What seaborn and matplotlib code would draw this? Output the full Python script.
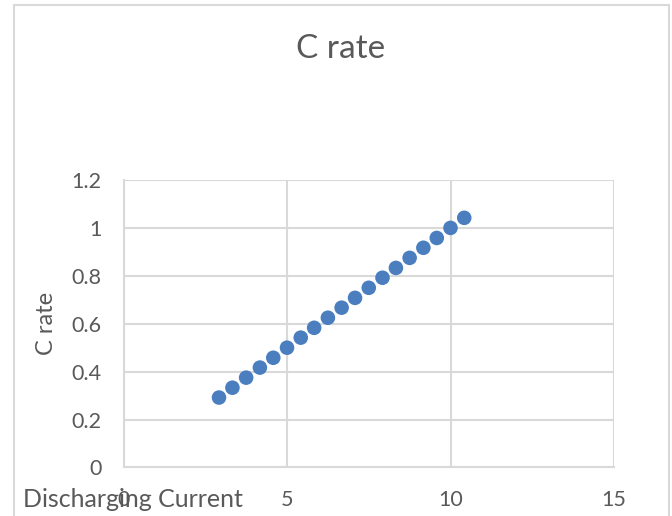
import matplotlib
matplotlib.use("Agg")
import matplotlib.pyplot as plt
import matplotlib.patches as mpatches
import seaborn as sns
import pandas as pd

# Discharging current (A) and resulting C rate
current = [2.92, 3.33, 3.75, 4.17, 4.58, 5.00, 5.42, 5.83, 6.25, 6.67,
           7.08, 7.50, 7.92, 8.33, 8.75, 9.17, 9.58, 10.00, 10.42]
c_rate = [0.292, 0.333, 0.375, 0.417, 0.458, 0.500, 0.542, 0.583, 0.625, 0.667,
          0.708, 0.750, 0.792, 0.833, 0.875, 0.917, 0.958, 1.000, 1.042]
x_ticks = [0, 5, 10, 15]
y_ticks = [0, 0.2, 0.4, 0.6, 0.8, 1, 1.2]
y_tick_labels = ["0", "0.2", "0.4", "0.6", "0.8", "1", "1.2"]

df = pd.DataFrame({"Discharging Current": current, "C rate": c_rate})

sns.set_style("white")
plt.rcParams["font.family"] = ["Lato", "DejaVu Sans"]

TEXT = "#595959"
GRID = "#d9d9d9"

fig = plt.figure(figsize=(6.72, 5.16), dpi=100)
ax = fig.add_axes([0.1838, 0.094, 0.7299, 0.5572])

sns.scatterplot(data=df, x="Discharging Current", y="C rate", ax=ax,
                s=110, color="#4A7EBF", edgecolor="none", zorder=3)

ax.set_xlim(0, 15)
ax.set_ylim(0, 1.2)
ax.set_xticks(x_ticks)
ax.set_yticks(y_ticks)
ax.set_yticklabels(y_tick_labels)
ax.grid(True, color=GRID, linewidth=1.5)
ax.set_axisbelow(True)
for side in ["top", "right"]:
    ax.spines[side].set_visible(False)
for side in ["left", "bottom"]:
    ax.spines[side].set_color(GRID)
    ax.spines[side].set_linewidth(1.5)
ax.tick_params(axis="both", length=0, labelsize=15.5, labelcolor=TEXT, pad=16)

ax.set_xlabel("Discharging Current", fontsize=18, color=TEXT, ha="left", va="center")
ax.xaxis.set_label_coords(-0.205, -0.113)
ax.set_ylabel("C rate", fontsize=17, color=TEXT, va="center")
ax.yaxis.set_label_coords(-0.158, 0.5)

fig.text(341 / 672, 1 - 49 / 516, "C rate", fontsize=24, color=TEXT,
         ha="center", va="center")

# chart area frame
frame = mpatches.Rectangle((13.5 / 672, -0.1), (669 - 13.5) / 672, 1.1 - 5 / 516,
                           transform=fig.transFigure, fill=False,
                           edgecolor=GRID, linewidth=1.5, clip_on=False)
fig.patches.append(frame)

fig.savefig("out.png", dpi=100)
